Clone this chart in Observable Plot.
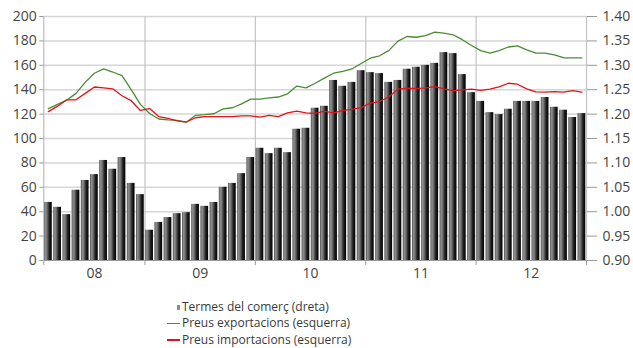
<!DOCTYPE html>
<html><head><meta charset="utf-8">
<script src="https://cdn.jsdelivr.net/npm/d3@7"></script>
<script src="https://cdn.jsdelivr.net/npm/@observablehq/plot@0.6"></script>
<style>
body{margin:0;background:#fff;font-family:"Open Sans",sans-serif;}
#chart{position:relative;width:633px;height:290px}
#legend{position:relative;width:633px;height:58px;font-size:12px;color:#3a3a3a}
.item{position:absolute;left:182px;height:14px;line-height:14px;white-space:nowrap}
.mk{position:absolute}
</style></head><body>
<div id="chart"></div>
<div id="legend"></div>
<script>
// Year labels (x axis); data runs from Feb 2008 to Dec 2012 (monthly)
const yearLabels = ["08","09","10","11","12"];
const monthsInYear = [11,12,12,12,12];

// Termes del comerç (right axis)
const terms = [
  1.019,1.009,0.994,1.044,1.064,1.076,1.105,1.087,1.111,1.058,1.035,
  0.962,0.978,0.988,0.996,0.998,1.015,1.011,1.019,1.050,1.058,1.078,1.111,
  1.130,1.119,1.130,1.121,1.169,1.171,1.212,1.216,1.269,1.257,1.265,1.289,
  1.285,1.283,1.265,1.269,1.292,1.296,1.300,1.304,1.326,1.324,1.281,1.244,
  1.226,1.203,1.199,1.210,1.226,1.226,1.226,1.234,1.214,1.208,1.193,1.201
];
// Preus exportacions (left axis)
const exportsP = [
  124.5,128,131.5,137,146,153.5,157,154.5,151.5,140,128,
  120.5,116,115.3,114.8,113.4,119,119.5,120.3,124.3,125.2,128.4,132.3,
  132.3,133.3,134,136.6,143,141.5,145.3,149.5,153.5,155,157,161.5,
  165.8,167.8,172,179.8,183.6,183,184.4,187.2,186.3,185,181,176.2,
  172,170,172,175,176,172.7,170,170,168.6,166.2,166.1,166.1
];
// Preus importacions (left axis)
const importsP = [
  122,126.5,131.7,131.7,137,142.2,141.5,140.7,135,131,123,
  124.5,118,116.5,114.5,113.5,117,118,118,118,118,118.6,118.6,
  117.5,118.9,118,121,122.4,121,120.5,122.5,120.8,123,123.8,125.3,
  129,130.3,134,140.5,141.2,140.8,141.5,142.5,140.7,139.3,139.9,140.5,
  139.5,140.5,142.3,145.3,144.5,140.7,138.2,138,138.5,138,139.3,138
];

const data = terms.map((t,i)=>({i, terms:t, exp:exportsP[i], imp:importsP[i]}));
// year boundaries and centres in month-index space
let acc = -0.5; const bounds = [acc]; const centers = [];
monthsInYear.forEach(n=>{centers.push(acc + n/2); acc += n; bounds.push(acc);});
const toLeft = r => (r-0.9)*400;
const yTicks = d3.range(0,201,20);

const plot = Plot.plot({
  width:633, height:290, marginLeft:43.3, marginRight:47, marginTop:16, marginBottom:30,
  style:{fontFamily:"'Open Sans', sans-serif", fontSize:"14px", color:"#444", background:"white"},
  x:{type:"linear", domain:[bounds[0], bounds[bounds.length-1]], axis:null},
  y:{domain:[0,200], axis:null},
  marks:[
    Plot.ruleY(yTicks.slice(1), {stroke:"#d6d6d6", strokeWidth:1.5}),
    Plot.ruleX(bounds.slice(1), {stroke:"#c4c4c4", strokeWidth:1.2}),
    Plot.rectY(data, {x1:d=>d.i-0.42, x2:d=>d.i+0.42, y1:0, y2:d=>toLeft(d.terms), fill:"url(#barGrad)"}),
    Plot.line(data,{x:"i", y:"exp", stroke:"#4a8c36", strokeWidth:1.3}),
    Plot.line(data,{x:"i", y:"imp", stroke:"#e3121b", strokeWidth:1.3}),
    Plot.ruleY([0], {stroke:"#9a9a9a"}),
    Plot.ruleX([bounds[0]], {stroke:"#b0b0b0"}),
    Plot.axisY({ticks:yTicks, tickSize:4, tickPadding:3, label:null, stroke:"#999", fill:"#444"}),
    Plot.axisY({anchor:"right", ticks:yTicks, tickFormat:d=>(0.9+d/400).toFixed(2), tickSize:10, tickPadding:6, label:null, stroke:"#999", fill:"#444"}),
    Plot.axisX({ticks:centers, tickFormat:(d)=>yearLabels[centers.indexOf(d)], tickSize:0, tickPadding:8, label:null, fill:"#444"}),
    Plot.axisX({ticks:bounds, tickFormat:()=>"", tickSize:5, label:null, stroke:"#999"})
  ]
});
const ns="http://www.w3.org/2000/svg";
const defs=document.createElementNS(ns,"defs");
defs.innerHTML='<linearGradient id="barGrad" x1="0" x2="1" y1="0" y2="0">'+
 '<stop offset="0" stop-color="#4e4e4e"/><stop offset="0.18" stop-color="#8e8e8e"/>'+
 '<stop offset="0.35" stop-color="#7a7a7a"/><stop offset="0.7" stop-color="#1e1e1e"/>'+
 '<stop offset="1" stop-color="#000"/></linearGradient>';
plot.insertBefore(defs, plot.firstChild);
document.getElementById("chart").appendChild(plot);

const legendItems = [
  {label:"Termes del comerç (dreta)", type:"bar", color:"#8c8c8c"},
  {label:"Preus exportacions (esquerra)", type:"line", color:"#4a8c36"},
  {label:"Preus importacions (esquerra)", type:"line", color:"#e3121b"}
];
const lg = document.getElementById("legend");
const tops=[10,26.4,42.8];
legendItems.forEach((it,k)=>{
  const t=document.createElement("div"); t.className="item"; t.style.top=tops[k]+"px"; t.textContent=it.label; lg.appendChild(t);
  const m=document.createElement("div"); m.className="mk";
  if(it.type==="bar"){m.style.cssText=`left:177px;top:${tops[k]+4.5}px;width:3px;height:5px;background:${it.color}`;}
  else{m.style.cssText=`left:167px;top:${tops[k]+6.5}px;width:13px;height:1.3px;background:${it.color}`;}
  lg.appendChild(m);
});
</script></body></html>
